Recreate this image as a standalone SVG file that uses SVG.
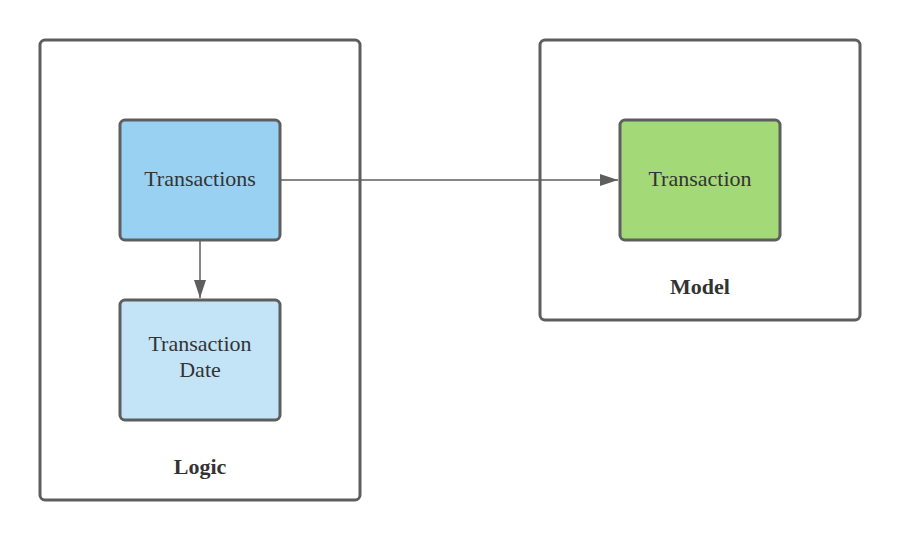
<svg xmlns="http://www.w3.org/2000/svg" width="900" height="540" viewBox="0 0 900 540">
<defs>
<marker id="ah" viewBox="0 0 18 12" refX="18" refY="6" markerWidth="18" markerHeight="12" markerUnits="userSpaceOnUse" orient="auto">
<path d="M0,0 L18,6 L0,12 Z" fill="#5e5e5e"/>
</marker>
</defs>
<style>
.cont{fill:#ffffff;stroke:#5e5e5e;stroke-width:3}
.node{stroke:#5e5e5e;stroke-width:3}
.t{font-family:"Liberation Serif",serif;font-size:22px;fill:#333333;text-anchor:middle}
.b{font-family:"Liberation Serif",serif;font-size:22px;font-weight:bold;fill:#333333;text-anchor:middle}
.c{fill:none;stroke:#5e5e5e;stroke-width:1.5}
</style>
<rect width="900" height="540" fill="#ffffff"/>
<g id="logic">
<rect class="cont" x="40" y="40" width="320" height="460" rx="5"/>
<text class="b" x="200" y="474">Logic</text>
</g>
<g id="model">
<rect class="cont" x="540" y="40" width="320" height="280" rx="5"/>
<text class="b" x="700" y="294">Model</text>
</g>
<g id="transactions">
<rect class="node" x="120" y="120" width="160" height="120" rx="5" fill="#99d1f3"/>
<text class="t" x="200" y="186">Transactions</text>
</g>
<g id="transaction-date">
<rect class="node" x="120" y="300" width="160" height="120" rx="5" fill="#c3e4f7"/>
<text class="t" x="200" y="351">Transaction</text>
<text class="t" x="200" y="377">Date</text>
</g>
<g id="transaction">
<rect class="node" x="620" y="120" width="160" height="120" rx="5" fill="#a3d977"/>
<text class="t" x="700" y="186">Transaction</text>
</g>
<g id="connectors">
<line class="c" x1="281" y1="180" x2="618" y2="180" marker-end="url(#ah)"/>
<line class="c" x1="200" y1="241" x2="200" y2="298" marker-end="url(#ah)"/>
</g>
</svg>
